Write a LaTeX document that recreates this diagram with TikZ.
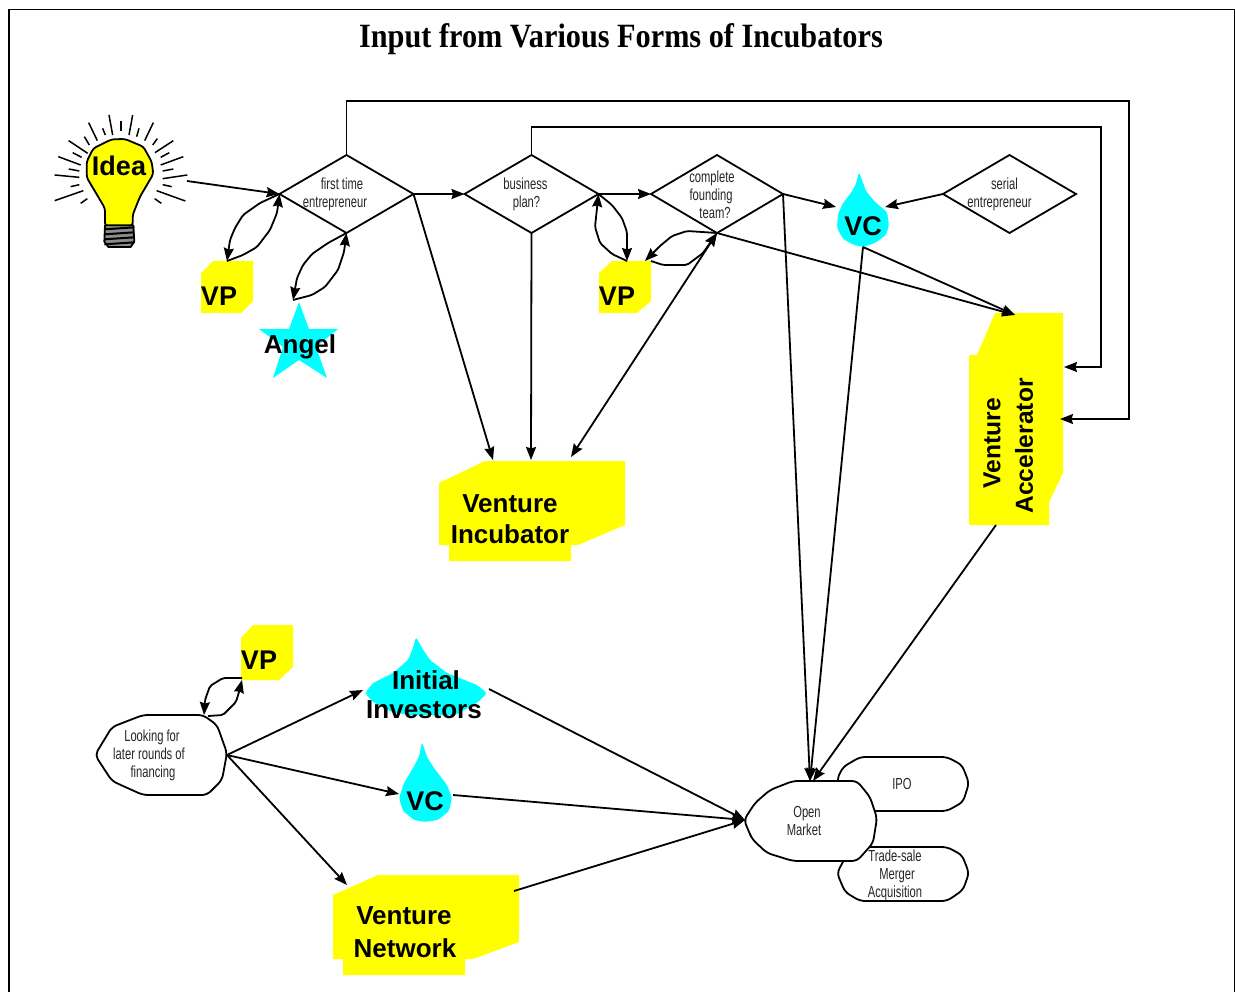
\documentclass[tikz,border=0pt]{standalone}
\usepackage{fontspec}
\setmainfont{Liberation Sans}
\newfontfamily\titlef[FakeStretch=0.89]{Liberation Serif}
\newfontfamily\smf[FakeStretch=0.70]{Liberation Sans}
\usetikzlibrary{arrows.meta,shapes.geometric}
\definecolor{yel}{RGB}{255,255,0}
\definecolor{cya}{RGB}{0,255,255}
\tikzset{
  ln/.style={line width=1.8pt,line join=miter,black},
  arr/.style={ln,-{Stealth[length=13pt,width=10pt,inset=1.5pt]}},
  barr/.style={ln,{Stealth[length=13pt,width=10pt,inset=1.5pt]}-{Stealth[length=13pt,width=10pt,inset=1.5pt]}},
  wavy/.style={arr,line join=round,rounded corners=2pt},
  decision/.style={diamond,draw,line width=1.8pt,inner sep=0pt,outer sep=0pt,minimum width=134pt,minimum height=78pt},
  ybox/.style={fill=yel,draw=none},
  cbox/.style={fill=cya,draw=none,rounded corners=2.5pt},
  term/.style={fill=white,draw=black,line width=1.8pt,line join=round,rounded corners=5pt},
  small/.style={inner sep=0pt,align=center,text=black!85,font=\smf\fontsize{16}{18}\selectfont},
  big/.style={inner sep=0pt,align=center,font=\bfseries\fontsize{27}{30}\selectfont},
  bigb/.style={inner sep=0pt,align=center,font=\bfseries\fontsize{26}{30}\selectfont},
  bigc/.style={inner sep=0pt,align=center,font=\bfseries\fontsize{24.6}{30}\selectfont},
  tit/.style={inner sep=0pt,font=\titlef\bfseries\fontsize{34}{38}\selectfont}
}
\begin{document}
\begin{tikzpicture}[x=1pt,y=-1pt]
\useasboundingbox (0,0) rectangle (1235,992);
\fill[white] (0,0) rectangle (1235,992);
\draw[line width=1.6pt] (9,992) -- (9,9.5) -- (1234.5,9.5) -- (1234.5,992);
\node[tit] (title) at (621,39) {Input from Various Forms of Incubators};

% yellow blocks
\path[ybox] (201,273) -- (213,261) -- (253,261) -- (253,301) -- (241,313) -- (201,313) -- cycle;
\path[ybox] (599,273) -- (612,261) -- (651,261) -- (651,301) -- (637,313) -- (599,313) -- cycle;
\path[ybox] (241,638) -- (253,625) -- (293,625) -- (293,667) -- (279,680) -- (241,680) -- cycle;
\path[ybox] (439,483) -- (485,461) -- (625,461) -- (625,525) -- (578,545) -- (571,545) -- (571,561) -- (449,561) -- (449,545) -- (439,545) -- cycle;
\path[ybox] (333,895) -- (378,875) -- (519,875) -- (519,942) -- (473,959) -- (465,959) -- (465,975) -- (343,975) -- (343,959) -- (333,959) -- cycle;
\path[ybox] (969,355) -- (977,355) -- (995,313) -- (1063,313) -- (1063,473) -- (1049,502) -- (1049,525) -- (969,525) -- cycle;

% cyan shapes
\path[fill=cya] (299,302) -- (309,329) -- (338,329) -- (316,347) -- (327,378) -- (299,360) -- (273,378) -- (283,347) -- (259,329) -- (289,329) -- cycle;
\path[cbox] (859,172) -- (856,184) -- (851,193) -- (843,203) -- (838,214) -- (837,228) -- (843,239) -- (854,245) -- (863,247) -- (875,243) -- (886,235) -- (889,225) -- (887,212) -- (875,202) -- (866,191) -- cycle;
\path[cbox] (422,742) -- (419,757) -- (413,768) -- (404,783) -- (399,798) -- (403,811) -- (414,820) -- (425,822) -- (438,820) -- (449,811) -- (452,798) -- (447,785) -- (434,768) -- (427,757) -- cycle;
\path[cbox] (416,637) -- (413,648) -- (408,660) -- (393,673) -- (373,683) -- (365,693) -- (373,702) -- (392,712) -- (410,715) -- (455,715) -- (477,703) -- (487,693) -- (477,685) -- (447,673) -- (430,660) -- (422,648) -- cycle;

% light bulb
\begin{scope}[x=0.33333pt,y=-0.33333pt,shift={(120,300)}]
  \foreach \a/\b/\c/\d in {207/45/218/105,278/45/267/105,146/68/172/122,340/68/314/122,86/122/143/160,400/122/345/158,55/170/122/195,430/170/362/195,44/225/118/232,442/225/368/236,44/302/130/272,436/303/350/272,243/62/243/93,188/85/196/105,297/85/290/110,133/110/148/135,352/116/338/135,98/158/125/172,388/158/362/172,86/207/118/213,400/207/368/213,92/260/118/254,395/260/368/254,122/310/142/296,364/310/344/296}
    \draw[line width=1.5pt] (\a,\b) -- (\c,\d);
  \filldraw[fill=yel,line width=1.8pt,line join=round,rounded corners=3pt] (215,118) -- (255,117) -- (310,140) -- (335,185) -- (340,222) -- (300,290) -- (278,345) -- (278,378) -- (195,378) -- (195,325) -- (140,232) -- (140,185) -- (160,145) -- cycle;
  \filldraw[fill=black!45,line width=1.8pt,line join=round] (195,376) -- (280,376) -- (283,425) -- (272,441) -- (205,441) -- (193,425) -- cycle;
  \foreach \yy in {385,400,415,430}
    \draw[line width=2pt] (193,\yy+3) -- (283,\yy-3);
\end{scope}

% terminals
\path[term] (837,779) -- (843,767) -- (860,757) -- (947,757) -- (962,765) -- (969,783) -- (963,802) -- (947,811) -- (860,811) -- (843,800) -- cycle;
\path[term] (837,873) -- (845,858) -- (860,847) -- (947,847) -- (962,855) -- (969,873) -- (963,890) -- (947,901) -- (860,901) -- (845,892) -- cycle;
\path[term] (744,820) -- (755,803) -- (770,790) -- (793,781) -- (857,781) -- (870,797) -- (877,818) -- (873,843) -- (857,861) -- (793,861) -- (767,853) -- (752,839) -- cycle;
\path[term] (95,755) -- (112,727) -- (143,715) -- (203,715) -- (217,725) -- (227,753) -- (222,780) -- (207,795) -- (143,795) -- (112,781) -- cycle;

% decisions
\node[decision] (d1) at (346.5,194) {};
\node[decision] (d2) at (531.5,194) {};
\node[decision,minimum width=132pt] (d3) at (717,194) {};
\node[decision,minimum width=133pt] (d4) at (1009.5,194) {};

% connector ends
\coordinate (ideaout) at (187,181);
\coordinate (vp1top) at (227,261);
\coordinate (angeltop) at (293,300);
\coordinate (vp2a) at (627,261);
\coordinate (vp2b) at (645,261);
\coordinate (vp2c) at (651,261);
\coordinate (vp3a) at (242,678);
\coordinate (vp3b) at (242,680);
\coordinate (look) at (227,755);
\coordinate (looktop) at (204,715);
\coordinate (looktopb) at (208,716);
\coordinate (incA) at (493,460);
\coordinate (incB) at (531,460);
\coordinate (incC) at (571,457);
\coordinate (vcin1) at (836,207);
\coordinate (vcin2) at (885,207);
\coordinate (vcout) at (863,247);
\coordinate (acctop) at (1015,315);
\coordinate (accin1) at (1064,367);
\coordinate (accin2) at (1060,419);
\coordinate (accout) at (996,525);
\coordinate (mkt) at (810,781);
\coordinate (mktb) at (813,781);
\coordinate (mktw) at (745,820);
\coordinate (iniin) at (363,690);
\coordinate (iniout) at (489,689);
\coordinate (vc2in) at (399,794);
\coordinate (vc2out) at (453,795);
\coordinate (netin) at (347,885);
\coordinate (netout) at (514,891);

% straight connectors
\draw[arr] (ideaout) -- (d1.west);
\draw[arr] (d1.east) -- (d2.west);
\draw[arr] (d2.east) -- (d3.west);
\draw[arr] (d1.east) -- (incA);
\draw[arr] (d2.south) -- (incB);
\draw[barr] (d3.south) -- (incC);
\draw[arr] (d3.east) -- (vcin1);
\draw[arr] (d4.west) -- (vcin2);
\draw[arr] (vcout) -- (acctop);
\draw[arr] (d3.south) -- (acctop);
\draw[arr] (d3.east) -- (mkt);
\draw[arr] (vcout) -- (mkt);
\draw[arr] (accout) -- (mktb);
\draw[arr] (d1.north) |- (1129,101) |- (accin2);
\draw[arr] (d2.north) |- (1101,127) |- (accin1);
\draw[arr] (look) -- (iniin);
\draw[arr] (look) -- (vc2in);
\draw[arr] (look) -- (netin);
\draw[arr] (iniout) -- (mktw);
\draw[arr] (vc2out) -- (mktw);
\draw[arr] (netout) -- (mktw);

% looping connectors
\draw[wavy] (d1.west) -- (260,203) -- (243,215) -- (235,228) -- (230,240) -- (vp1top);
\draw[wavy] (vp1top) -- (243,255) -- (257,247) -- (270,230) -- (277,213) -- (d1.west);
\draw[wavy] (d1.south) -- (328,243) -- (312,254) -- (303,265) -- (297,278) -- (angeltop);
\draw[wavy] (angeltop) -- (312,295) -- (325,287) -- (338,270) -- (344,252) -- (d1.south);
\draw[wavy] (vp2a) -- (612,254) -- (600,243) -- (595,227) -- (d2.east);
\draw[wavy] (d2.east) -- (612,205) -- (622,218) -- (627,232) -- (vp2a);
\draw[wavy] (d3.south) -- (687,231) -- (672,236) -- (660,246) -- (vp2b);
\draw[wavy] (vp2c) -- (663,265) -- (687,265) -- (703,253) -- (d3.south);
\draw[wavy] (vp3a) -- (223,678) -- (210,686) -- (205,700) -- (looktop);
\draw[wavy] (looktopb) -- (223,715) -- (236,702) -- (239,692) -- (vp3b);

% labels
\node[small] (t1) at (335,194) {\hspace*{14pt}first time\\entrepreneur};
\node[small] (t2) at (525.5,194) {business\\\hspace*{2pt}plan?};
\node[small] (t3) at (711,195) {\hspace*{2pt}complete\\founding\\\hspace*{8pt}team?};
\node[small] (t4) at (999.5,194) {\hspace*{10pt}serial\\entrepreneur};
\node[small] (t5) at (149,755) {\hspace*{6pt}Looking for\\later rounds of\\\hspace*{8pt}financing};
\node[small] (t6) at (804,821) {\hspace*{6pt}Open\\Market};
\node[small] (t7) at (902,784) {IPO};
\node[small] (t8) at (895,875) {Trade-sale\\\hspace*{4pt}Merger\\Acquisition};
\node[big] (idea) at (119,166) {Idea};
\node[big] (vp1) at (219,296) {VP};
\node[big] (vp2) at (617,296) {VP};
\node[big] (vp3) at (259,660) {VP};
\node[bigb] (angel) at (300,347) {Angel};
\node[big] (vc1) at (863,226) {VC};
\node[big] (vc2) at (425,801) {VC};
\node[bigb] (init) at (426,680) {Initial};
\node[bigb] (inv) at (424,710) {Investors};
\node[bigb] (inc1) at (510,504) {Venture};
\node[bigb] (inc2) at (510,534) {Incubator};
\node[bigb] (net1) at (404,916) {Venture};
\node[bigb] (net2) at (405,948) {Network};
\node[bigc,rotate=90] (acc1) at (992,443) {Venture};
\node[bigc,rotate=90] (acc2) at (1024,446) {Accelerator};
\end{tikzpicture}
\end{document}
